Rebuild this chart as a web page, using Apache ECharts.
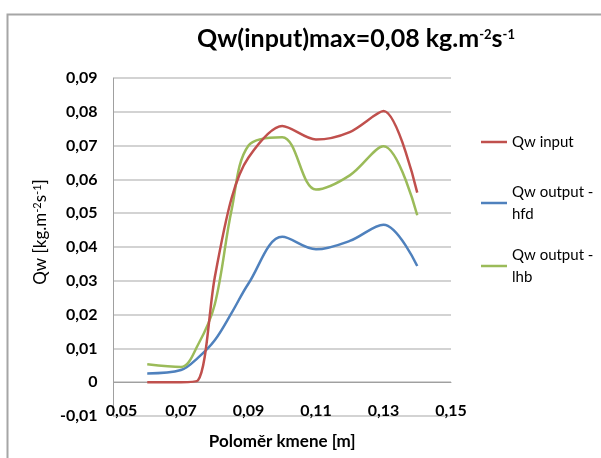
<!DOCTYPE html>
<html>
<head>
<meta charset="utf-8">
<script src="https://cdn.jsdelivr.net/npm/echarts@6/dist/echarts.min.js"></script>
<style>
html,body{margin:0;padding:0;background:#fff;}
#chart{width:601px;height:458px;}
</style>
</head>
<body>
<div id="chart"></div>
<script>
const xValues = [0.06, 0.07, 0.075, 0.08, 0.085, 0.09, 0.10, 0.11, 0.12, 0.13, 0.14];
const qwInput = [0, 0, 0.0005, 0.031, 0.0545, 0.0665, 0.0758, 0.0718, 0.074, 0.0802, 0.0561];
const qwHfd   = [0.0026, 0.0036, 0.0072, 0.0124, 0.0205, 0.0292, 0.0430, 0.0393, 0.0418, 0.0466, 0.0344];
const qwLhb   = [0.0053, 0.0045, 0.011, 0.023, 0.051, 0.070, 0.0725, 0.057, 0.0612, 0.0698, 0.0494];
const seriesNames = ['Qw input', 'Qw output -\nhfd', 'Qw output -\nlhb'];
const xTicks = [0.05, 0.07, 0.09, 0.11, 0.13, 0.15];

const FONT = 'Lato';
const pairs = arr => xValues.map((x, i) => [x, arr[i]]);
const fmt = v => {
  const r = Math.round(v * 100) / 100;
  if (r === 0) return '0';
  return r.toFixed(2).replace('.', ',');
};

const chart = echarts.init(document.getElementById('chart'), null, {renderer: 'canvas'});
const colors = ['#c0504d', '#4f81bd', '#9bbb59'];

function legendFor(idx, top, multi) {
  return {
    data: [{name: seriesNames[idx], icon: 'rect'}],
    orient: 'vertical',
    left: 481,
    top: top,
    padding: 0,
    itemWidth: 26,
    itemHeight: 2.5,
    selectedMode: false,
    textStyle: {
      fontFamily: FONT, fontSize: 15, color: '#000', lineHeight: 22,
      padding: multi ? [22, 0, 0, 0] : 0
    }
  };
}

const labelStyle = {fontFamily: FONT, fontSize: 16, fontWeight: 'bold', color: '#000'};

chart.setOption({
  animation: false,
  color: colors,
  title: {
    text: '{a|Qw(input)max=0,08 kg.m}{s|-2}{a|s}{s|-1}',
    left: 351,
    textAlign: 'center',
    top: 14,
    textStyle: {
      rich: {
        a: {fontFamily: FONT, fontSize: 25, fontWeight: 'bold', color: '#000', verticalAlign: 'bottom', lineHeight: 32},
        s: {fontFamily: FONT, fontSize: 13, fontWeight: 'bold', color: '#000', verticalAlign: 'middle', lineHeight: 13}
      }
    }
  },
  graphic: [{
    type: 'rect', silent: true,
    shape: {x: 7.5, y: 14.5, width: 700, height: 600},
    style: {fill: 'none', stroke: '#a6a6a6', lineWidth: 2}
  }],
  legend: [legendFor(0, 131, false), legendFor(1, 170, true), legendFor(2, 233, true)],
  grid: {left: 113.5, right: 150, top: 78, bottom: 42, containLabel: false},
  xAxis: {
    type: 'value', min: 0.05, max: 0.15, interval: 0.02,
    name: 'Poloměr kmene [m]', nameLocation: 'middle', nameGap: 17,
    nameTextStyle: {fontFamily: FONT, fontSize: 17, fontWeight: 'bold', color: '#000'},
    axisLine: {show: true, lineStyle: {color: '#a0a0a0', width: 1}},
    axisTick: {show: false},
    splitLine: {show: false},
    axisLabel: Object.assign({
      customValues: xTicks,
      margin: -13,
      formatter: v => (Math.abs(v - xTicks[0]) < 1e-9 ? '{f|' + fmt(v) + '}' : fmt(v)),
      rich: {f: Object.assign({padding: [0, 0, 0, 16]}, labelStyle)},
      showMinLabel: true, showMaxLabel: true, hideOverlap: false
    }, labelStyle)
  },
  yAxis: {
    type: 'value', min: -0.01, max: 0.09, interval: 0.01,
    name: '{a|Qw [kg.m}{s|-2}{a|s}{s|-1}{a|]}', nameLocation: 'middle', nameGap: 60, nameRotate: 90,
    nameTextStyle: {
      padding: [0, 0, 0, 30],
      rich: {
        a: {fontFamily: FONT, fontSize: 17, color: '#000', verticalAlign: 'bottom', lineHeight: 23},
        s: {fontFamily: FONT, fontSize: 11, color: '#000', verticalAlign: 'middle', lineHeight: 11}
      }
    },
    axisLine: {show: true, lineStyle: {color: '#a0a0a0', width: 1}},
    axisTick: {show: false},
    splitLine: {show: true, lineStyle: {color: '#c4c4c4', width: 1.5}},
    axisLabel: Object.assign({margin: 16, formatter: v => fmt(v)}, labelStyle)
  },
  series: [
    {name: seriesNames[0], type: 'line', data: pairs(qwInput), smooth: 0.3, symbol: 'none', lineStyle: {width: 2.5, color: colors[0]}, z: 3},
    {name: seriesNames[1], type: 'line', data: pairs(qwHfd), smooth: 0.35, symbol: 'none', lineStyle: {width: 2.5, color: colors[1]}, z: 2},
    {name: seriesNames[2], type: 'line', data: pairs(qwLhb), smooth: 0.35, symbol: 'none', lineStyle: {width: 2.5, color: colors[2]}, z: 2}
  ]
});
</script>
</body>
</html>
